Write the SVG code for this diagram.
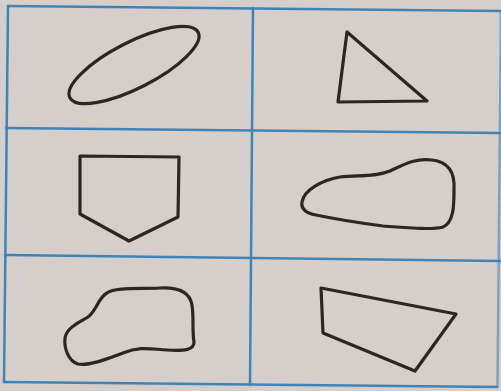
<svg xmlns="http://www.w3.org/2000/svg" width="501" height="391" viewBox="0 0 501 391">
<style>
.grid{stroke:#3f84b6;stroke-width:2.5;fill:none;stroke-linecap:round}
.shape{stroke:#2b2523;stroke-width:3.2;fill:none;stroke-linejoin:round}
</style>
<rect x="0" y="0" width="501" height="391" fill="#d6cecb"/>
<g id="grid">
<line class="grid" x1="8" y1="6" x2="502" y2="11"/>
<line class="grid" x1="6" y1="128" x2="502" y2="133"/>
<line class="grid" x1="5" y1="255" x2="502" y2="261"/>
<line class="grid" x1="4" y1="382" x2="497" y2="387"/>
<line class="grid" x1="8" y1="6" x2="4" y2="382"/>
<line class="grid" x1="253" y1="8" x2="250" y2="385"/>
<line class="grid" x1="501" y1="11" x2="497.5" y2="387" stroke-opacity="0.6"/>
</g>
<g id="oval">
<ellipse class="shape" cx="134" cy="65" rx="72" ry="23" transform="rotate(-27 134 65)"/>
</g>
<g id="triangle">
<polygon class="shape" points="347,32 338,102 427,101"/>
</g>
<g id="pentagon">
<polygon class="shape" points="80,156 179,157 178,217 129,241 80,214"/>
</g>
<g id="blob-right">
<path class="shape" d="M302,202 C304,190 322,180 340,177 C360,175 375,177 390,171 C405,164 415,158 432,160 C450,162 455,175 454,190 C454,205 454,222 443,227 C432,230 410,228 383,226 C360,223 335,219 316,215 C305,213 301,208 302,202 Z"/>
</g>
<g id="blob-left">
<path class="shape" d="M107,293 C115,287 140,289 160,288 C180,287 190,293 192,305 C194,318 192,330 194,342 C194,350 185,351 167,350 C150,349 140,346 123,353 C105,360 88,366 78,364 C68,361 64,348 65,338 C67,327 80,322 88,317 C97,310 98,298 107,293 Z"/>
</g>
<g id="quadrilateral">
<polygon class="shape" points="321,288 456,314 415,371 323,333"/>
</g>
</svg>
